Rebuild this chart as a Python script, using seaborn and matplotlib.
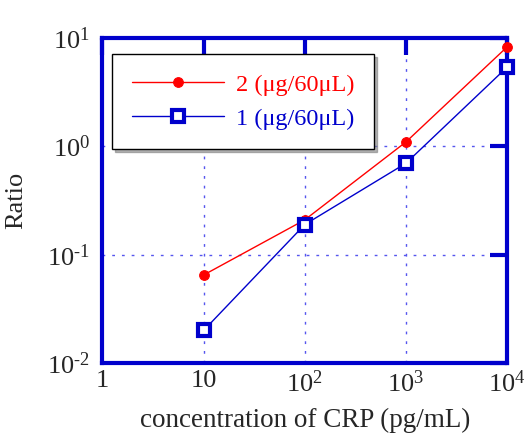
import numpy as np
import pandas as pd
import matplotlib
matplotlib.use('Agg')
import matplotlib.pyplot as plt
from matplotlib.ticker import FixedLocator, FixedFormatter, NullLocator
import seaborn as sns

# data
conc = [10, 100, 1000, 10000]
ratio_2ug = [0.065, 0.21, 1.1, 8.3]
ratio_1ug = [0.02, 0.19, 0.70, 5.4]
series_labels = ['2 (\u03bcg/60\u03bcL)', '1 (\u03bcg/60\u03bcL)']

x_ticks = [1, 10, 100, 1000, 10000]
x_ticklabels = ['1', '10', r'$\mathregular{10^{2}}$', r'$\mathregular{10^{3}}$', r'$\mathregular{10^{4}}$']
y_ticks = [0.01, 0.1, 1, 10]
y_ticklabels = [r'$\mathregular{10^{\text{-}2}}$', r'$\mathregular{10^{\text{-}1}}$',
                r'$\mathregular{10^{0}}$', r'$\mathregular{10^{1}}$']

df = pd.DataFrame({
    'conc': conc * 2,
    'ratio': ratio_2ug + ratio_1ug,
    'series': [series_labels[0]] * 4 + [series_labels[1]] * 4,
})

sns.set_style('white')
plt.rcParams['font.family'] = ['Liberation Serif', 'DejaVu Serif']
plt.rcParams['mathtext.fontset'] = 'custom'
plt.rcParams['mathtext.rm'] = 'Liberation Serif'
plt.rcParams['axes.unicode_minus'] = False

blue = '#0000cc'
fig, ax = plt.subplots(figsize=(5.25, 4.38), dpi=100)
fig.subplots_adjust(left=0.195, right=0.966, top=0.913, bottom=0.171)

sns.lineplot(data=df[df.series == series_labels[0]], x='conc', y='ratio', ax=ax,
             color='red', lw=1, marker='o', ms=7, mec='red', mfc='red',
             label=series_labels[0], clip_on=False, zorder=5)
sns.lineplot(data=df[df.series == series_labels[1]], x='conc', y='ratio', ax=ax,
             color=blue, lw=1, marker='s', ms=9, mec=blue, mfc='white', mew=3,
             label=series_labels[1], clip_on=False, zorder=5)

ax.set_xscale('log')
ax.set_yscale('log')
ax.set_xlim(1, 10000)
ax.set_ylim(0.01, 10)
ax.xaxis.set_major_locator(FixedLocator(x_ticks))
ax.xaxis.set_major_formatter(FixedFormatter(x_ticklabels))
ax.yaxis.set_major_locator(FixedLocator(y_ticks))
ax.yaxis.set_major_formatter(FixedFormatter(y_ticklabels))
ax.xaxis.set_minor_locator(NullLocator())
ax.yaxis.set_minor_locator(NullLocator())

ax.tick_params(which='major', direction='in', length=12, width=3, color=blue,
               top=True, right=True, labelsize=19)
ax.tick_params(axis='x', pad=5)
ax.tick_params(axis='y', pad=9)
for s in ax.spines.values():
    s.set_color(blue)
    s.set_linewidth(3)
ax.grid(True, color='#5555ee', linestyle=(0, (2, 5)), lw=1)

ax.set_xlabel('concentration of CRP (pg/mL)', fontsize=19.5, labelpad=8)
ax.set_ylabel('Ratio', fontsize=19, labelpad=14)

leg = ax.legend(loc='upper left', bbox_to_anchor=(0.025, 0.95), fontsize=17.5, frameon=True,
                fancybox=False, shadow={'color': 'gray', 'alpha': 0.6}, handlelength=3.8,
                borderpad=0.8, labelspacing=0.5, handletextpad=0.5, borderaxespad=0)
leg.get_frame().set_edgecolor('black')
leg.get_frame().set_linewidth(1)
for txt, c in zip(leg.get_texts(), ['red', blue]):
    txt.set_color(c)

plt.savefig('out.png', dpi=100)
